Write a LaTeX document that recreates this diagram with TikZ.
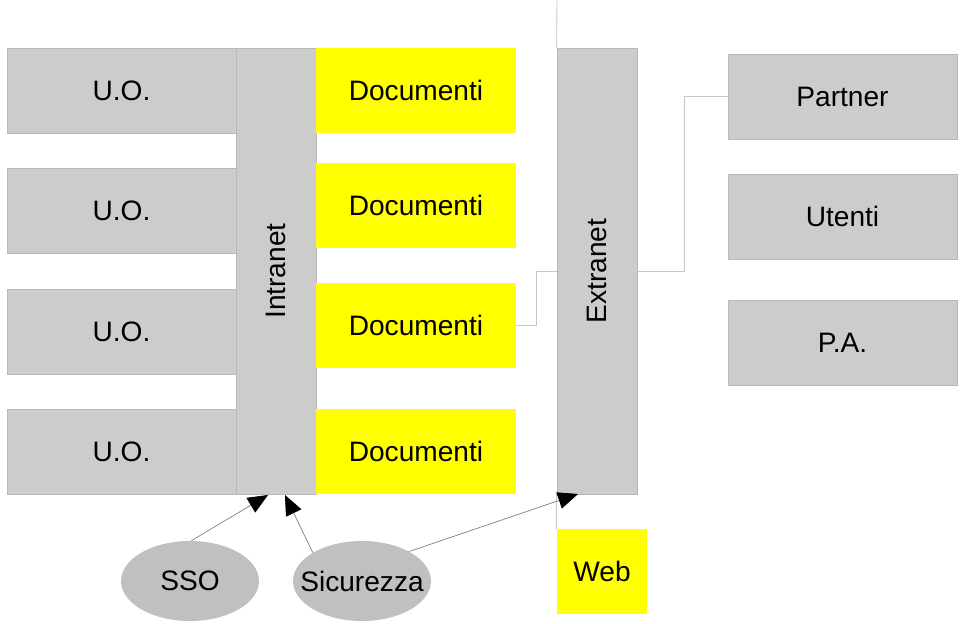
\documentclass[tikz,border=0pt]{standalone}
\usepackage{fontspec}
\setmainfont{Liberation Sans}
\usetikzlibrary{arrows.meta,shapes.geometric}
\definecolor{boxgray}{HTML}{CCCCCC}
\definecolor{edgegray}{HTML}{B8B8B8}
\definecolor{ovalgray}{HTML}{C0C0C0}
\definecolor{linegray}{HTML}{C8C8C8}
\definecolor{docyellow}{HTML}{FFFF00}

\begin{document}
\begin{tikzpicture}[x=0.02cm,y=-0.02cm,
    every node/.style={font=\fontsize{16}{19}\selectfont,inner sep=0pt},
    grigio/.style={draw=edgegray,fill=boxgray,line width=0.4pt},
    uobox/.style={grigio,minimum width=229*0.02cm,minimum height=85*0.02cm},
    docbox/.style={fill=docyellow,minimum width=200*0.02cm,minimum height=85*0.02cm},
    netbox/.style={grigio,minimum width=80*0.02cm,minimum height=446*0.02cm},
    extbox/.style={grigio,minimum width=229*0.02cm,minimum height=85*0.02cm},
    oval/.style={ellipse,fill=ovalgray,inner xsep=-14*0.02cm,minimum width=138*0.02cm,minimum height=80*0.02cm},
    conn/.style={draw=linegray,line width=0.5pt},
    freccia/.style={draw=gray,line width=0.4pt,-{Triangle[length=4mm,width=3.4mm,black]}}]
  \useasboundingbox (0,0) rectangle (960,624);
  % reti
  \node[netbox] (intra) at (276,271) {\rotatebox{90}{Intranet}};
  \node[netbox] (extra) at (597,271) {\rotatebox{90}{Extranet}};
  % unita organizzative
  \node[uobox] (uo1) at (121.5,90.5) {U.O.};
  \node[uobox] (uo2) at (121.5,210.5) {U.O.};
  \node[uobox] (uo3) at (121.5,331.5) {U.O.};
  \node[uobox] (uo4) at (121.5,451.5) {U.O.};
  % documenti
  \node[docbox] (doc1) at (416,90.5) {Documenti};
  \node[docbox] (doc2) at (416,205.5) {Documenti};
  \node[docbox] (doc3) at (416,325.5) {Documenti};
  \node[docbox] (doc4) at (416,451.5) {Documenti};
  % esterni
  \node[extbox] (partner) at (842.5,96.5) {Partner};
  \node[extbox] (utenti) at (842.5,216.5) {Utenti};
  \node[extbox] (pa) at (842.5,342.5) {P.A.};
  \node[docbox,minimum width=90*0.02cm,minimum height=85*0.02cm] (web) at (602,571.5) {Web};
  % servizi
  \node[oval] (sso) at (190,581) {SSO};
  \node[oval] (sic) at (362,581) {Sicurezza};
  % collegamenti
  \coordinate (cima) at (557,0);
  \draw[conn] (cima) -- (extra.north west);
  \draw[conn] (extra.south west) -- (web.north west);
  \draw[conn] (doc3.east) -- ++(20,0) |- (extra.west);
  \draw[conn] (extra.east) -- ++(47,0) |- (partner.west);
  \coordinate (p1) at (268,495);
  \coordinate (p2) at (285,495);
  \coordinate (p3) at (578,494);
  \draw[freccia] (sso.88) -- (p1);
  \draw[freccia] (sic.150) -- (p2);
  \draw[freccia] (sic.32) -- (p3);
\end{tikzpicture}
\end{document}
